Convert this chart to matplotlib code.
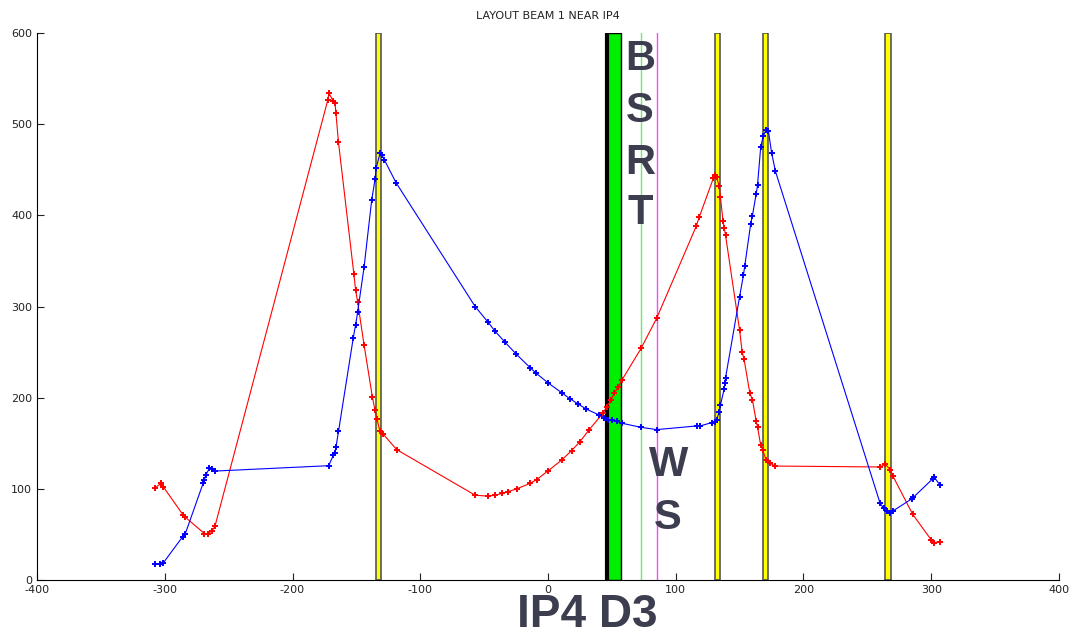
import matplotlib.pyplot as plt
import numpy as np

plt.rcParams['axes.unicode_minus'] = False

# beam 1 optics near IP4
red_s = [-307.6, -303, -301, -285.5, -284, -269, -266, -263, -260.7,
         -172.4, -171.4, -168, -166.7, -166, -164, -152, -150.6, -149, -144,
         -137.5, -135.4, -134, -131.5, -129, -118.4, -57, -47, -41.5, -36, -31,
         -24.5, -14, -9, 0.3, 10.7, 18.5, 25, 32, 43, 46, 49, 52, 55, 57.7,
         72.8, 85, 116, 118.5, 129.4, 130.7, 132, 134, 135, 137, 138, 139,
         150, 152, 153.5, 158, 160, 163, 164, 166.5, 168, 170.6, 173.8, 178,
         260, 264, 268, 270, 285.5, 300, 302, 307]
red_b = [101, 106, 102, 71, 69, 51, 51, 54, 59,
         526.5, 534, 525, 523, 512, 480, 336, 318, 305, 258,
         201, 186, 177, 163, 160, 143, 93, 92, 93, 95, 97,
         100, 106, 110, 120, 131.6, 142, 151.7, 164.5, 183, 190, 197, 205, 212, 219,
         254, 287, 388, 398.5, 440.6, 444, 442, 432, 420, 394, 386, 378,
         274, 250, 242, 205, 198, 174, 168, 148, 143, 132, 128, 125,
         124, 127, 121, 114, 72, 44, 41, 42]

blue_s = [-308, -304, -301, -286, -284, -270, -269, -268, -265, -263, -260.7,
          -171.7, -168, -167, -166, -164, -152.4, -150.6, -149, -144, -138,
          -135.4, -134.6, -131.5, -130, -128, -119, -57, -47, -41.5, -33.7,
          -25, -14, -9.4, 0.3, 10.7, 17, 23.7, 30, 40, 44, 47, 50, 54, 57.7,
          72.8, 85, 116.4, 119, 128, 130.7, 132, 134, 135, 137.8, 138.6, 139,
          150, 153, 154, 158.7, 160, 163, 164, 166.5, 168.5, 170.6, 172.5,
          175, 178, 260, 263, 265, 268, 270, 284.7, 286, 301, 302.4, 307]
blue_b = [17.5, 17.5, 19, 47.5, 50.5, 106, 110, 115, 122.5, 122, 119.5,
          125.4, 137, 139, 145.5, 163, 266, 280, 294, 343, 417,
          439.5, 451.6, 468, 466, 460.7, 436, 300, 283, 273, 261,
          248, 233, 227, 216, 205.5, 199, 193, 187.5, 181, 178, 176, 175, 174, 172,
          167.5, 165, 169, 169, 172.6, 173.6, 175.5, 184.6, 192, 209, 216, 222,
          311, 334.5, 344.4, 391, 399.6, 424, 433, 475, 487, 493.6, 493,
          469, 448.6, 84, 78.6, 75.7, 73, 75.7, 89, 90.7, 110.8, 112.6, 104]

# quadrupole positions (start, end)
quads = [(-134.9, -130.4), (130.7, 134.8), (168.0, 172.5), (263.8, 268.3)]
d3 = (45.5, 57.0)
bsrt_line = 72.8
ws_line = 85.0

fig = plt.figure(figsize=(10.7, 6.37), dpi=100)
ax = fig.add_axes([0.0346, 0.0895, 0.9551, 0.8585])

for a, b in quads:
    ax.axvspan(a, b, facecolor='yellow', edgecolor='#555555', lw=1.2, zorder=1)
ax.axvspan(d3[0], d3[1], facecolor='#00ee00', edgecolor='black', lw=1, zorder=1)
ax.axvline(d3[0] + 1.0, color='black', lw=3, zorder=1)
ax.axvline(bsrt_line, color='#66ee66', lw=1, zorder=1)
ax.axvline(ws_line, color='#ff44ff', lw=1, zorder=1)

ax.plot(red_s, red_b, color='red', lw=0.8, marker='+', ms=4, mew=1.4, zorder=3)
ax.plot(blue_s, blue_b, color='blue', lw=0.8, marker='+', ms=4, mew=1.4, zorder=3)

big = dict(fontsize=30, fontweight='bold', color='#3c3e50', ha='center', va='center',
           family=['Liberation Sans', 'DejaVu Sans'], zorder=4)
for ch, yy in zip('BSRT', [572, 515, 457, 403]):
    ax.text(72, yy, ch, **big)
for ch, yy in zip('WS', [126, 68]):
    ax.text(94, yy, ch, **big)

fig.text(0.5486, 0.016, 'IP4 D3', fontsize=33, fontweight='bold', color='#3c3e50',
         ha='center', va='baseline', family=['Liberation Sans', 'DejaVu Sans'])

ax.set_xlim(-400, 400)
ax.set_ylim(0, 600)
ax.set_xticks(np.arange(-400, 401, 100))
ax.set_yticks(np.arange(0, 601, 100))
ax.spines['top'].set_visible(False)
ax.spines['right'].set_visible(False)
ax.tick_params(direction='in', length=5, labelsize=8, colors='#222222')
ax.set_title('LAYOUT BEAM 1 NEAR IP4', fontsize=8, color='#222222', pad=10)

fig.savefig('out.png', dpi=100)
